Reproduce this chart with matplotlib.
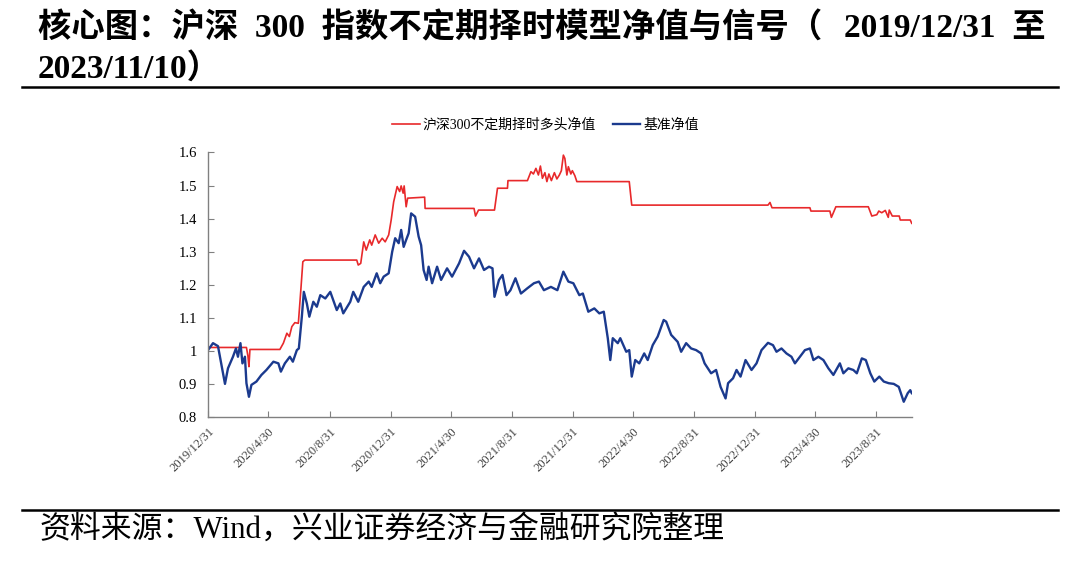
import matplotlib
matplotlib.use("Agg")
import matplotlib.pyplot as plt
from matplotlib.ticker import FuncFormatter
import pandas as pd

plt.rcParams['font.family'] = ['Liberation Serif', 'Noto Sans CJK SC']

start_date = "2019-12-31"

# benchmark (CSI 300 rebased), days after start_date and net value
bench_days = [0, 10, 20, 34, 40, 50, 56, 60, 65, 69, 74, 77, 82, 87, 97, 107, 117, 131, 141,
              146, 154, 164, 170, 178, 182, 188, 192, 198, 203, 211, 218, 225, 235, 245, 251,
              258, 265, 271, 285, 291, 301, 312, 322, 328, 338, 345, 352, 362, 369, 375, 382,
              387, 392, 397, 402, 407, 415, 422, 427, 432, 438, 442, 449, 459, 467, 479, 489,
              503, 513, 523, 533, 543, 553, 563, 570, 574, 583, 590, 598, 606, 616, 627, 640,
              653, 663, 673, 687, 700, 712, 722, 732, 744, 751, 762, 774, 784, 793, 801, 806,
              811, 821, 826, 838, 844, 849, 856, 864, 874, 881, 891, 901, 913, 918, 928, 941,
              948, 958, 968, 978, 988, 995, 1008, 1018, 1027, 1037, 1042, 1052, 1059, 1067,
              1077, 1089, 1099, 1109, 1122, 1132, 1139, 1149, 1159, 1169, 1176, 1186, 1196,
              1206, 1213, 1223, 1233, 1243, 1253, 1266, 1273, 1283, 1293, 1300, 1310, 1318,
              1327, 1335, 1345, 1354, 1364, 1374, 1384, 1394, 1402, 1407, 1410]
bench_nav = [1.003, 1.024, 1.015, 0.901, 0.948, 0.983, 1.008, 0.983, 1.024, 0.963, 0.983, 0.903,
             0.862, 0.898, 0.908, 0.928, 0.943, 0.968, 0.963, 0.938, 0.963, 0.983, 0.968, 1.003,
             1.008, 1.104, 1.179, 1.144, 1.104, 1.149, 1.134, 1.169, 1.159, 1.179, 1.154, 1.124,
             1.144, 1.114, 1.149, 1.179, 1.149, 1.194, 1.210, 1.194, 1.235, 1.205, 1.225, 1.235,
             1.300, 1.341, 1.326, 1.366, 1.315, 1.336, 1.356, 1.416, 1.406, 1.346, 1.320, 1.245,
             1.215, 1.255, 1.205, 1.255, 1.215, 1.250, 1.225, 1.265, 1.303, 1.285, 1.250, 1.280,
             1.245, 1.255, 1.250, 1.164, 1.215, 1.230, 1.169, 1.184, 1.220, 1.174, 1.190, 1.205,
             1.210, 1.184, 1.194, 1.184, 1.240, 1.210, 1.205, 1.169, 1.174, 1.119, 1.129, 1.114,
             1.119, 1.039, 0.973, 1.039, 1.024, 1.039, 0.998, 1.003, 0.923, 0.973, 0.963, 0.993,
             0.973, 1.018, 1.044, 1.094, 1.089, 1.049, 1.028, 0.998, 1.024, 1.008, 1.003, 0.993,
             0.963, 0.933, 0.943, 0.892, 0.857, 0.903, 0.918, 0.943, 0.923, 0.973, 0.943, 0.963,
             1.003, 1.025, 1.018, 0.998, 1.008, 0.993, 0.983, 0.963, 0.983, 1.003, 1.008, 0.973,
             0.983, 0.973, 0.948, 0.928, 0.963, 0.933, 0.948, 0.943, 0.933, 0.978, 0.973, 0.933,
             0.908, 0.923, 0.908, 0.903, 0.901, 0.892, 0.847, 0.873, 0.882, 0.873]

# timing strategy (long only) net value
strat_days = [0, 77, 80, 82, 84, 144, 151, 158, 163, 168, 174, 181, 186, 190, 194, 298, 301,
              306, 312, 317, 324, 328, 335, 342, 349, 355, 362, 367, 372, 379, 384, 387, 391,
              393, 397, 400, 434, 435, 533, 536, 542, 574, 580, 600, 601, 640, 647, 652, 657,
              662, 666, 670, 675, 679, 683, 688, 694, 699, 704, 708, 712, 715, 719, 722, 727,
              730, 735, 739, 844, 849, 1122, 1126, 1130, 1206, 1208, 1246, 1249, 1253, 1258,
              1323, 1330, 1340, 1344, 1350, 1357, 1363, 1365, 1371, 1385, 1387, 1407, 1410]
strat_nav = [1.011, 1.011, 0.985, 0.953, 1.005, 1.005, 1.024, 1.054, 1.044, 1.074, 1.086, 1.084,
             1.185, 1.270, 1.275, 1.275, 1.260, 1.265, 1.330, 1.305, 1.336, 1.320, 1.351, 1.326,
             1.341, 1.330, 1.351, 1.396, 1.451, 1.497, 1.482, 1.499, 1.477, 1.499, 1.436, 1.462,
             1.465, 1.431, 1.431, 1.408, 1.426, 1.426, 1.492, 1.492, 1.515, 1.515, 1.542, 1.535,
             1.552, 1.532, 1.559, 1.522, 1.539, 1.512, 1.535, 1.515, 1.539, 1.520, 1.532, 1.545,
             1.592, 1.582, 1.532, 1.557, 1.535, 1.545, 1.530, 1.512, 1.512, 1.441, 1.441, 1.449,
             1.433, 1.433, 1.423, 1.423, 1.404, 1.418, 1.436, 1.436, 1.408, 1.412, 1.423, 1.418,
             1.425, 1.404, 1.426, 1.408, 1.408, 1.396, 1.396, 1.386]

tick_dates = ["2019-12-31", "2020-04-30", "2020-08-31", "2020-12-31", "2021-04-30",
              "2021-08-31", "2021-12-31", "2022-04-30", "2022-08-31", "2022-12-31",
              "2023-04-30", "2023-08-31"]
end_date = "2023-11-10"

t0 = pd.Timestamp(start_date)
bench_x = t0 + pd.to_timedelta(bench_days, unit="D")
strat_x = t0 + pd.to_timedelta(strat_days, unit="D")
ticks = pd.to_datetime(tick_dates)

fig = plt.figure(figsize=(10.8, 5.73), dpi=100)
ax = fig.add_axes([0.1926, 0.2717, 0.6516, 0.4622])

ax.plot(strat_x, strat_nav, color="#e8292b", lw=1.2, label="沪深300不定期择时多头净值")
ax.plot(bench_x, bench_nav, color="#1b3a8e", lw=1.7, label="基准净值")

ax.set_xlim(t0, pd.Timestamp(end_date))
ax.set_ylim(0.8, 1.6)
ax.set_yticks([0.8, 0.9, 1.0, 1.1, 1.2, 1.3, 1.4, 1.5, 1.6])
ax.yaxis.set_major_formatter(FuncFormatter(lambda v, p: f"{v:g}"))
ax.set_xticks(ticks)
ax.set_xticklabels([f"{d.year}/{d.month}/{d.day}" for d in ticks], rotation=45,
                   ha="right", rotation_mode="anchor", color="#404040", fontsize=9)
ax.tick_params(axis="both", direction="in", length=4, color="#808080", width=0.8)
ax.tick_params(axis="y", labelsize=10.5, pad=8)
ax.tick_params(axis="x", pad=6)
for s in ["top", "right"]:
    ax.spines[s].set_visible(False)
for s in ["left", "bottom"]:
    ax.spines[s].set_color("#808080")
    ax.spines[s].set_linewidth(1.0)

fig.legend(loc="center", bbox_to_anchor=(0.505, 0.782), ncol=2, frameon=False,
           handlelength=2.0, columnspacing=1.2, handletextpad=0.2,
           prop={"family": ["Liberation Serif", "Noto Sans CJK SC"], "size": 10})

# title, spread over the full width like the justified original
title_font = {"family": ["Liberation Serif", "Noto Sans CJK SC"], "size": 24, "weight": "bold"}
fig.text(0.035, 0.951, "核心图：沪深  300  指数不定期择时模型净值与信号（",
         fontdict=title_font, va="center", ha="left")
fig.text(0.968, 0.951, "2019/12/31  至", fontdict=title_font, va="center", ha="right")
fig.text(0.035, 0.881, "2023/11/10）", fontdict=title_font, va="center", ha="left")
fig.add_artist(plt.Line2D([0.02, 0.98], [0.848, 0.848], color="black", lw=1.8))
fig.add_artist(plt.Line2D([0.02, 0.98], [0.11, 0.11], color="black", lw=1.8))
fig.text(0.037, 0.076, "资料来源：Wind，兴业证券经济与金融研究院整理", fontsize=22.2,
         va="center", ha="left")

plt.savefig("out.png", dpi=100)
